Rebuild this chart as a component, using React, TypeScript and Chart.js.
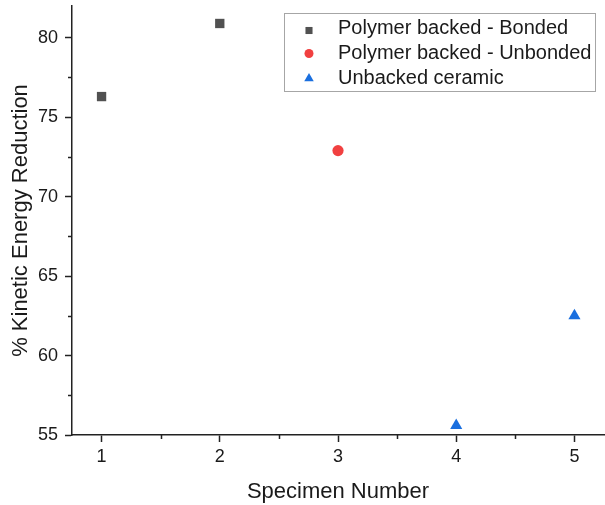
import React, { useEffect, useRef } from "react";
import { Chart, registerables } from "chart.js";

Chart.register(...registerables);

// ---- data ----
const bondedX = [1, 2];
const bondedY = [76.3, 80.9];
const unbondedX = [3];
const unbondedY = [72.9];
const ceramicX = [4, 5];
const ceramicY = [55.6, 62.5];

const seriesLabels = [
  "Polymer backed - Bonded",
  "Polymer backed - Unbonded",
  "Unbacked ceramic",
];
const seriesColors = ["#515151", "#F14040", "#1A6FDF"];
const seriesShapes = ["rect", "circle", "triangle"];

const xTicks = [1, 2, 3, 4, 5];
const yTicks = [55, 60, 65, 70, 75, 80];
const xMinorTicks = [1.5, 2.5, 3.5, 4.5];
const yMinorTicks = [57.5, 62.5, 67.5, 72.5, 77.5];

const xTitle = "Specimen Number";
const yTitle = "% Kinetic Energy Reduction";

const FONT = '"Liberation Sans", Arial, sans-serif';
const AXIS = "#222222";
const TEXT = "#1a1a1a";

const toPoints = (xs: number[], ys: number[]) => xs.map((x, i) => ({ x, y: ys[i] }));

function drawShape(ctx: CanvasRenderingContext2D, shape: string, x: number, y: number, r: number, color: string) {
  ctx.save();
  ctx.fillStyle = color;
  ctx.beginPath();
  if (shape === "rect") {
    const s = Math.SQRT1_2 * r;
    ctx.rect(x - s, y - s, 2 * s, 2 * s);
  } else if (shape === "circle") {
    ctx.arc(x, y, r, 0, Math.PI * 2);
  } else {
    ctx.moveTo(x, y - r);
    ctx.lineTo(x + r * Math.sin(Math.PI / 3), y + r / 2);
    ctx.lineTo(x - r * Math.sin(Math.PI / 3), y + r / 2);
  }
  ctx.closePath();
  ctx.fill();
  ctx.restore();
}

const minorTicksPlugin = {
  id: "minorTicks",
  afterDraw(chart: any) {
    const ctx = chart.ctx as CanvasRenderingContext2D;
    const xs = chart.scales.x;
    const ys = chart.scales.y;
    ctx.save();
    ctx.strokeStyle = AXIS;
    ctx.lineWidth = 1.5;
    ctx.beginPath();
    for (const v of xMinorTicks) {
      const px = Math.round(xs.getPixelForValue(v)) + 0.5;
      ctx.moveTo(px, xs.top);
      ctx.lineTo(px, xs.top + 4);
    }
    for (const v of yMinorTicks) {
      const py = Math.round(ys.getPixelForValue(v)) + 0.5;
      ctx.moveTo(ys.right, py);
      ctx.lineTo(ys.right - 4, py);
    }
    ctx.stroke();
    ctx.restore();
  },
};

const boxLegendPlugin = {
  id: "boxLegend",
  afterDraw(chart: any) {
    const ctx = chart.ctx as CanvasRenderingContext2D;
    const area = chart.chartArea;
    const right = area.right - 9;
    const top = area.top + 7;
    const w = 311;
    const h = 78;
    const left = right - w;
    ctx.save();
    ctx.strokeStyle = "#a6a6a6";
    ctx.lineWidth = 1;
    ctx.strokeRect(Math.round(left) + 0.5, Math.round(top) + 0.5, w, h);
    ctx.font = `20px ${FONT}`;
    ctx.fillStyle = TEXT;
    ctx.textBaseline = "middle";
    ctx.textAlign = "left";
    const sizes = [5, 4.5, 5.5];
    const symOffsets = [2, 0, 0];
    chart.data.datasets.forEach((ds: any, i: number) => {
      const cy = top + 15.5 + i * 25;
      drawShape(ctx, ds.pointStyle, left + 25, cy + symOffsets[i], sizes[i], ds.backgroundColor);
      ctx.fillText(ds.label, left + 54, cy);
    });
    ctx.restore();
  },
};

export default function App() {
  const ref = useRef<HTMLCanvasElement | null>(null);

  useEffect(() => {
    if (!ref.current) return;
    const chart = new Chart(ref.current, {
      type: "scatter",
      data: {
        datasets: [
          {
            label: seriesLabels[0],
            data: toPoints(bondedX, bondedY),
            backgroundColor: seriesColors[0],
            borderColor: seriesColors[0],
            borderWidth: 0,
            pointStyle: seriesShapes[0] as any,
            pointRadius: 6.6,
          },
          {
            label: seriesLabels[1],
            data: toPoints(unbondedX, unbondedY),
            backgroundColor: seriesColors[1],
            borderColor: seriesColors[1],
            borderWidth: 0,
            pointStyle: seriesShapes[1] as any,
            pointRadius: 5.6,
          },
          {
            label: seriesLabels[2],
            data: toPoints(ceramicX, ceramicY),
            backgroundColor: seriesColors[2],
            borderColor: seriesColors[2],
            borderWidth: 0,
            pointStyle: seriesShapes[2] as any,
            pointRadius: 7,
          },
        ],
      },
      options: {
        animation: false,
        responsive: true,
        maintainAspectRatio: false,
        layout: { autoPadding: false, padding: { top: 6, right: 1, left: 0, bottom: 0 } },
        plugins: {
          legend: { display: false },
          tooltip: { enabled: false },
        },
        scales: {
          x: {
            type: "linear",
            min: 0.75,
            max: 5.25,
            afterBuildTicks: (scale: any) => {
              scale.ticks = xTicks.map((v) => ({ value: v }));
            },
            afterFit: (scale: any) => {
              scale.height = 70;
              scale.paddingLeft = 0;
              scale.paddingRight = 0;
            },
            grid: {
              drawOnChartArea: false,
              drawTicks: true,
              tickLength: 7,
              tickWidth: 1.5,
              tickColor: AXIS,
            },
            border: { display: true, color: AXIS, width: 1.5 },
            ticks: {
              padding: 4,
              color: TEXT,
              font: { family: FONT, size: 18 },
              callback: (v: any) => String(v),
            },
            title: {
              display: true,
              text: xTitle,
              color: TEXT,
              font: { family: FONT, size: 22 },
              padding: { top: 0, bottom: 0 },
            },
          },
          y: {
            type: "linear",
            min: 55,
            max: 82,
            afterBuildTicks: (scale: any) => {
              scale.ticks = yTicks.map((v) => ({ value: v }));
            },
            afterFit: (scale: any) => {
              scale.width = 72;
              scale.paddingTop = 0;
              scale.paddingBottom = 0;
            },
            grid: {
              drawOnChartArea: false,
              drawTicks: true,
              tickLength: 7,
              tickWidth: 1.5,
              tickColor: AXIS,
            },
            border: { display: true, color: AXIS, width: 1.5 },
            ticks: {
              padding: 7,
              color: TEXT,
              font: { family: FONT, size: 18 },
              callback: (v: any) => String(v),
            },
            title: {
              display: true,
              text: yTitle,
              color: TEXT,
              font: { family: FONT, size: 22 },
              padding: { top: 8, bottom: 0 },
            },
          },
        },
      },
      plugins: [minorTicksPlugin, boxLegendPlugin],
    });
    return () => chart.destroy();
  }, []);

  return (
    <div style={{ position: "fixed", left: 0, top: 0, width: 605, height: 505, background: "#fff" }}>
      <canvas ref={ref} />
    </div>
  );
}
